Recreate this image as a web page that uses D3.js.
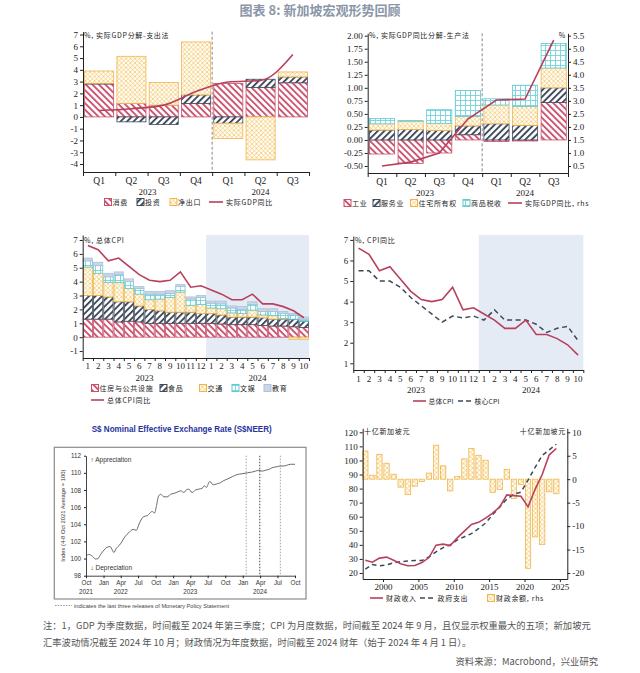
<!DOCTYPE html>
<html><head><meta charset="utf-8">
<script src="https://cdn.jsdelivr.net/npm/d3@7"></script>
<style>
html,body{margin:0;padding:0;background:#fff;}
svg{display:block;}
</style></head><body>
<svg id="c" width="640" height="673"></svg>
<script>
// ---------------- DATA ----------------
const gdpQuarters = ["Q1","Q2","Q3","Q4","Q1","Q2","Q3"];
const gdpYears = ["2023","2024"];
// Panel 1: expenditure approach (ppt)
const expConsumption = [2.8, 1.15, 1.0, 1.15, 2.85, 2.5, 2.9];
const expInvestment  = [0.05, -0.42, -0.65, 0.72, -0.54, 0.7, 0.5];
const expNetExports  = [1.05, 4.0, 1.92, 4.5, -1.3, -3.65, 0.42];
const gdpYoY         = [0.55, 0.7, 1.0, 2.15, 2.97, 3.1, 5.3];
// Panel 2: production approach (ppt), GDP rhs
const prodIndustry  = [-0.27, -0.45, -0.25, 0.10, -0.03, -0.02, 0.72];
const prodServices  = [0.19, 0.20, 0.18, 0.17, 0.31, 0.28, 0.28];
const prodDwellings = [0.12, 0.16, 0.14, 0.18, 0.36, 0.36, 0.38];
const prodTaxes     = [0.10, 0.01, 0.26, 0.50, 0.12, 0.41, 0.47];
const gdpYoYRhs     = [0.5, 0.65, 1.0, 2.3, 3.03, 3.07, 5.33];
// Panel 3 & 4: CPI, monthly 2023-01 .. 2024-10
const cpiMonths = ["1","2","3","4","5","6","7","8","9","10","11","12","1","2","3","4","5","6","7","8","9","10"];
const cpiYears = ["2023","2024"];
const cpiHousing    = [1.3,1.3,1.3,1.1,1.15,1.1,1.0,1.0,1.0,1.0,1.0,1.0, 1.0,0.95,0.9,0.9,0.9,0.85,0.8,0.8,0.75,0.7];
const cpiFood       = [1.7,1.7,1.6,1.45,1.4,1.15,1.0,0.9,0.8,0.8,0.8,0.7, 0.7,0.65,0.55,0.55,0.55,0.55,0.5,0.5,0.55,0.45];
const cpiTransport  = [2.05,1.6,1.05,1.4,0.95,0.85,0.7,0.85,1.05,1.45,0.5,0.65, 0.4,0.45,0.3,0.25,0.5,0.2,0.25,0.05,-0.15,-0.15];
const cpiRecreation = [0.45,0.55,0.4,0.55,0.5,0.4,0.4,0.35,0.3,0.4,0.45,0.5, 0.35,0.35,0.35,0.3,0.4,0.25,0.3,0.35,0.3,0.15];
const cpiEducation  = [0.2,0.25,0.25,0.2,0.2,0.15,0.2,0.2,0.2,0.15,0.15,0.15, 0.15,0.2,0.15,0.2,0.2,0.2,0.2,0.15,0.1,0.15];
const cpiHeadline   = [6.6,6.3,5.5,5.7,5.1,4.5,4.1,4.0,4.1,4.7,3.6,3.7, 3.4,3.1,2.7,2.7,3.1,2.4,2.4,2.2,1.9,1.4];
const cpiCore       = [5.5,5.5,5.0,5.0,4.7,4.2,3.8,3.4,3.0,3.3,3.2,3.3, 3.1,3.6,3.1,3.1,3.1,2.9,2.5,2.7,2.8,2.1];
// Panel 5: S$NEER
const neerDates = ["2021-10-01","2021-10-16","2021-11-03","2021-11-20","2021-12-03","2021-12-17","2022-01-04","2022-01-18","2022-02-04","2022-02-16","2022-02-24","2022-03-09","2022-03-27","2022-04-08","2022-04-25","2022-05-13","2022-06-05","2022-06-22","2022-07-04","2022-07-16","2022-07-31","2022-08-18","2022-09-01","2022-09-13","2022-09-25","2022-10-06","2022-10-15","2022-10-27","2022-11-14","2022-12-01","2022-12-19","2023-01-06","2023-01-23","2023-02-10","2023-02-27","2023-03-06","2023-03-24","2023-04-10","2023-04-28","2023-05-15","2023-06-02","2023-06-14","2023-06-24","2023-07-12","2023-07-30","2023-08-16","2023-09-06","2023-09-24","2023-10-15","2023-11-07","2023-12-03","2023-12-29","2024-01-25","2024-02-20","2024-03-08","2024-03-25","2024-04-12","2024-04-29","2024-05-17","2024-06-03","2024-06-26","2024-07-17","2024-08-04","2024-08-21","2024-09-08","2024-10-01"];
const neerValues = [100.29,100.48,100.29,99.94,100.0,100.5,101.0,101.3,101.4,101.0,100.7,101.2,101.6,102.0,102.6,103.0,103.4,103.3,103.9,104.5,104.9,105.0,105.3,105.5,105.3,106.2,107.2,107.5,107.2,107.2,107.5,107.6,107.76,107.9,107.7,107.9,108.1,107.7,108.0,108.1,108.2,108.5,108.3,109.0,108.6,108.7,108.85,109.1,109.3,109.55,109.8,109.9,110.0,110.1,110.2,110.3,110.2,110.3,110.4,110.6,110.7,110.8,110.8,110.9,111.0,111.0];
const neerMpsDates = ["2024-01-19","2024-03-30","2024-07-16"];
const neerTickYears = [["2021-10-01","2021"],["2022-04-01","2022"],["2023-04-01","2023"],["2024-04-01","2024"]];
// Panel 6: fiscal, FY1997..FY2024
const fiscalYears = d3.range(1997, 2025);
const fiscalRevenue = [29.0,27.7,30.6,31.3,29.0,26.6,25.2,25.3,27.4,31.0,39.8,40.5,39.5,45.0,49.8,54.5,56.0,59.0,62.5,67.0,75.5,75.0,74.5,67.0,79.5,90.0,104.0,108.5];
const fiscalSpending = [22.8,26.0,25.2,25.7,27.3,28.0,28.6,28.8,28.8,31.5,35.0,38.0,40.0,43.5,45.8,48.0,51.5,55.5,61.5,67.0,72.5,76.0,77.5,86.0,95.0,103.5,107.5,111.5];
const fiscalBalance = [6.0,0.85,5.3,3.4,1.05,-1.7,-3.3,-1.5,-0.5,1.3,7.25,2.85,-2.5,0.6,4.35,6.55,5.1,4.05,-2.8,-2.2,2.1,-4.1,-1.1,-19.0,-12.3,-13.9,-2.7,-3.1];

// ---------------- SETUP ----------------
const CJK = "'Noto Sans CJK SC','Noto Sans',sans-serif";
const SERIF = "'Liberation Serif','DejaVu Serif',serif";
const SANS = "'Liberation Sans','DejaVu Sans',Arial,sans-serif";
const INK = "#222";
const RED = "#b8405d";
const DARK = "#3d4858";

const svg = d3.select('#c');
const defs = svg.append('defs');
function hatch(id, color, angle, size, thick){
  const p = defs.append('pattern').attr('id',id).attr('patternUnits','userSpaceOnUse')
    .attr('width',size).attr('height',size).attr('patternTransform',`rotate(${angle})`);
  p.append('rect').attr('width',size).attr('height',size).attr('fill','#fff');
  p.append('rect').attr('width',thick).attr('height',size).attr('fill',color);
}
hatch('pRed','#cc5571',-45,4.6,1.9);
hatch('pDark','#404b5c',45,4.6,1.9);
{
  const p = defs.append('pattern').attr('id','pOrange').attr('patternUnits','userSpaceOnUse').attr('width',4.5).attr('height',4.5);
  p.append('rect').attr('width',4.5).attr('height',4.5).attr('fill','#fffdf5');
  p.append('path').attr('d','M0,0L4.5,4.5M4.5,0L0,4.5').attr('stroke','#f2c164').attr('stroke-width',0.7);
  const q = defs.append('pattern').attr('id','pCyan').attr('patternUnits','userSpaceOnUse').attr('width',5).attr('height',5);
  q.append('rect').attr('width',5).attr('height',5).attr('fill','#fff');
  q.append('path').attr('d','M0,0.5H5M0.5,0V5').attr('stroke','#74d2da').attr('stroke-width',0.9);
}
const STY = {
  red:{fill:'url(#pRed)',stroke:'#c9506b'},
  dark:{fill:'url(#pDark)',stroke:'#404b5c'},
  orange:{fill:'url(#pOrange)',stroke:'#f0b64c'},
  cyan:{fill:'url(#pCyan)',stroke:'#63c9d2'},
  edu:{fill:'#c9d6e8',stroke:'#b0c1da'}
};

function txt(x,y,s,opt={}){
  return svg.append('text').attr('x',x).attr('y',y).attr('text-anchor',opt.anchor||'start')
    .style('font-family',opt.font||CJK).style('font-size',(opt.size||7)+'px')
    .style('letter-spacing',(opt.ls!==undefined?opt.ls:0.7)+'px')
    .style('font-weight',opt.weight||'normal')
    .attr('fill',opt.fill||INK).text(s);
}
function styleAxis(g, font, size){
  g.select('.domain').attr('stroke',INK).attr('stroke-width',1);
  g.selectAll('.tick line').attr('stroke',INK);
  g.selectAll('text').style('font-family',font).style('font-size',size+'px').attr('fill',INK);
}
function legendBox(x,cy,sty){
  svg.append('rect').attr('x',x).attr('y',cy-3.5).attr('width',7).attr('height',7)
    .attr('fill',sty.fill).attr('stroke',sty.stroke).attr('stroke-width',1);
}
function legendLine(x1,x2,cy,color,dash){
  svg.append('line').attr('x1',x1).attr('x2',x2).attr('y1',cy).attr('y2',cy)
    .attr('stroke',color).attr('stroke-width',1.6).attr('stroke-dasharray',dash||null);
}
function drawStack(keys, styles, rows, xBand, y){
  const series = d3.stack().keys(keys).offset(d3.stackOffsetDiverging)(rows);
  series.forEach((s,k)=>{
    svg.append('g').selectAll('rect').data(s.filter(d=>Math.abs(d[1]-d[0])>1e-6)).join('rect')
      .attr('x',d=>xBand(d.data.i)).attr('width',xBand.bandwidth())
      .attr('y',d=>y(Math.max(d[0],d[1]))).attr('height',d=>Math.abs(y(d[0])-y(d[1])))
      .attr('fill',styles[k].fill).attr('stroke',styles[k].stroke).attr('stroke-width',0.8);
  });
}
const fmtPlain = d=>String(d);

// ---------------- TITLE ----------------
txt(320,15,'图表 8: 新加坡宏观形势回顾',{anchor:'middle',size:13,weight:'bold',fill:'#8a96a8',ls:0});

// ---------------- PANEL 1 ----------------
{
  const L=83,R=309,T=31.7,B=172;
  const xb = d3.scaleBand().domain(d3.range(gdpQuarters.length)).range([L,R]).paddingInner(0.1).paddingOuter(0.05);
  const xe = d3.scaleLinear().domain([0,gdpQuarters.length]).range([L,R]);
  const y = d3.scaleLinear().domain([-4.68,7.24]).range([B,T]);
  const rows = gdpQuarters.map((q,i)=>({i,cons:expConsumption[i],inv:expInvestment[i],nx:expNetExports[i]}));
  drawStack(['cons','inv','nx'],[STY.red,STY.dark,STY.orange],rows,xb,y);
  svg.append('line').attr('x1',xe(4)).attr('x2',xe(4)).attr('y1',T).attr('y2',B)
    .attr('stroke','#888').attr('stroke-dasharray','3,2');
  svg.append('path').datum(gdpYoY).attr('fill','none').attr('stroke',RED).attr('stroke-width',1.6)
    .attr('d',d3.line().x((d,i)=>xb(i)+xb.bandwidth()/2).y(d=>y(d)).curve(d3.curveMonotoneX));
  const ga = svg.append('g').attr('transform',`translate(${L},0)`)
    .call(d3.axisLeft(y).tickValues(d3.range(-4,8)).tickSize(3).tickSizeOuter(0).tickPadding(2).tickFormat(fmtPlain));
  styleAxis(ga,SERIF,9);
  const gx = svg.append('g').attr('transform',`translate(0,${B})`)
    .call(d3.axisBottom(xe).tickValues(d3.range(gdpQuarters.length+1)).tickSize(4).tickSizeOuter(0).tickFormat(''));
  styleAxis(gx,SERIF,9);
  gdpQuarters.forEach((q,i)=>txt(xb(i)+xb.bandwidth()/2,184,q,{anchor:'middle',font:SERIF,size:9.5,ls:0}));
  txt((xe(0)+xe(4))/2,194.5,gdpYears[0],{anchor:'middle',font:SERIF,size:9,ls:0});
  txt((xe(4)+xe(7))/2,194.5,gdpYears[1],{anchor:'middle',font:SERIF,size:9,ls:0});
  txt(84,38,'%, 实际GDP分解-支出法');
  legendBox(104.5,202,STY.red); txt(112.5,205,'消费');
  legendBox(137,202,STY.dark); txt(145,205,'投资');
  legendBox(170,202,STY.orange); txt(178,205,'净出口');
  legendLine(209,223,202,RED); txt(226,205,'实际GDP同比');
}

// ---------------- PANEL 2 ----------------
{
  const L=367.7,R=568,T=33.3,B=173;
  const xb = d3.scaleBand().domain(d3.range(gdpQuarters.length)).range([L,R]).paddingInner(0.12).paddingOuter(0.06);
  const xe = d3.scaleLinear().domain([0,gdpQuarters.length]).range([L,R]);
  const y = d3.scaleLinear().domain([-0.634,2.046]).range([B,T]);
  const yr = d3.scaleLinear().domain([0.232,5.592]).range([B,T]);
  const rows = gdpQuarters.map((q,i)=>({i,ind:prodIndustry[i],srv:prodServices[i],dw:prodDwellings[i],tax:prodTaxes[i]}));
  drawStack(['ind','srv','dw','tax'],[STY.red,STY.dark,STY.orange,STY.cyan],rows,xb,y);
  svg.append('line').attr('x1',xe(4)).attr('x2',xe(4)).attr('y1',T).attr('y2',B)
    .attr('stroke','#888').attr('stroke-dasharray','3,2');
  svg.append('path').datum(gdpYoYRhs).attr('fill','none').attr('stroke',RED).attr('stroke-width',1.6)
    .attr('d',d3.line().x((d,i)=>xb(i)+xb.bandwidth()/2).y(d=>yr(d)));
  const ga = svg.append('g').attr('transform',`translate(${L},0)`)
    .call(d3.axisLeft(y).tickValues(d3.range(-2,9).map(v=>v*0.25)).tickSize(3).tickSizeOuter(0).tickPadding(2).tickFormat(d=>d.toFixed(2)));
  styleAxis(ga,SERIF,9);
  const gr = svg.append('g').attr('transform',`translate(${R},0)`)
    .call(d3.axisRight(yr).tickValues(d3.range(1,12).map(v=>v*0.5)).tickSize(3).tickSizeOuter(0).tickPadding(2).tickFormat(d=>d.toFixed(1)));
  styleAxis(gr,SERIF,9);
  const gx = svg.append('g').attr('transform',`translate(0,${B})`)
    .call(d3.axisBottom(xe).tickValues(d3.range(gdpQuarters.length+1)).tickSize(4).tickSizeOuter(0).tickFormat(''));
  styleAxis(gx,SERIF,9);
  gdpQuarters.forEach((q,i)=>txt(xb(i)+xb.bandwidth()/2,185,q,{anchor:'middle',font:SERIF,size:9.5,ls:0}));
  txt((xe(0)+xe(4))/2,196,gdpYears[0],{anchor:'middle',font:SERIF,size:9,ls:0});
  txt((xe(4)+xe(7))/2,196,gdpYears[1],{anchor:'middle',font:SERIF,size:9,ls:0});
  txt(369,38,'%, 实际GDP同比分解-生产法');
  txt(566,38,'%',{anchor:'end'});
  legendBox(344,203,STY.red); txt(352,206,'工业');
  legendBox(373,203,STY.dark); txt(381,206,'服务业');
  legendBox(410.5,203,STY.orange); txt(418.5,206,'住宅所有权');
  legendBox(463,203,STY.cyan); txt(471,206,'商品税收');
  legendLine(508,522,203,RED); txt(525,206,'实际GDP同比, rhs');
}

// ---------------- PANEL 3 ----------------
{
  const L=82.7,R=309,T=235,B=358;
  const n = cpiMonths.length;
  const xb = d3.scaleBand().domain(d3.range(n)).range([L,R]).paddingInner(0.1).paddingOuter(0.05);
  const xe = d3.scaleLinear().domain([0,n]).range([L,R]);
  const y = d3.scaleLinear().domain([-1.5,7.36]).range([B,T]);
  svg.append('rect').attr('x',xe(12)).attr('y',T).attr('width',R-xe(12)).attr('height',B-T).attr('fill','#e4ebf5');
  const rows = cpiMonths.map((m,i)=>({i,h:cpiHousing[i],f:cpiFood[i],t:cpiTransport[i],r:cpiRecreation[i],e:cpiEducation[i]}));
  drawStack(['h','f','t','r','e'],[STY.red,STY.dark,STY.orange,STY.cyan,STY.edu],rows,xb,y);
  svg.append('path').datum(cpiHeadline).attr('fill','none').attr('stroke',RED).attr('stroke-width',1.6)
    .attr('d',d3.line().x((d,i)=>xb(i)+xb.bandwidth()/2).y(d=>y(d)));
  const ga = svg.append('g').attr('transform',`translate(${L},0)`)
    .call(d3.axisLeft(y).tickValues(d3.range(-1,8)).tickSize(3).tickSizeOuter(0).tickPadding(2).tickFormat(fmtPlain));
  styleAxis(ga,SERIF,9);
  const gx = svg.append('g').attr('transform',`translate(0,${B})`)
    .call(d3.axisBottom(xe).tickValues(d3.range(n+1)).tickSize(3).tickSizeOuter(0).tickFormat(''));
  styleAxis(gx,SERIF,9);
  cpiMonths.forEach((m,i)=>txt(xb(i)+xb.bandwidth()/2,368.5,m,{anchor:'middle',font:SERIF,size:9,ls:0}));
  txt((xe(0)+xe(12))/2,381,cpiYears[0],{anchor:'middle',font:SERIF,size:9,ls:0});
  txt((xe(12)+xe(22))/2,381,cpiYears[1],{anchor:'middle',font:SERIF,size:9,ls:0});
  txt(84,243,'%, 总体CPI');
  legendBox(91.5,388,STY.red); txt(99.5,391,'住房与公共设施');
  legendBox(160,388,STY.dark); txt(168,391,'食品');
  legendBox(199.5,388,STY.orange); txt(207.5,391,'交通');
  legendBox(232,388,STY.cyan); txt(240,391,'文娱');
  legendBox(264,388,STY.edu); txt(272,391,'教育');
  legendLine(91,104,400,RED); txt(107,403,'总体CPI同比');
}

// ---------------- PANEL 4 ----------------
{
  const L=353.3,R=583.3,T=235,B=370;
  const n = cpiMonths.length;
  const xe = d3.scaleLinear().domain([0,n]).range([L,R]);
  const y = d3.scaleLinear().domain([0.674,7.19]).range([B,236]);
  svg.append('rect').attr('x',xe(12)).attr('y',T).attr('width',R-xe(12)).attr('height',B-T).attr('fill','#e4ebf5');
  svg.append('path').datum(cpiCore).attr('fill','none').attr('stroke',DARK).attr('stroke-width',1.5).attr('stroke-dasharray','5,3.5')
    .attr('d',d3.line().x((d,i)=>xe(i+0.5)).y(d=>y(d)));
  svg.append('path').datum(cpiHeadline).attr('fill','none').attr('stroke',RED).attr('stroke-width',1.6)
    .attr('d',d3.line().x((d,i)=>xe(i+0.5)).y(d=>y(d)));
  const ga = svg.append('g').attr('transform',`translate(${L},0)`)
    .call(d3.axisLeft(y).tickValues(d3.range(1,8)).tickSize(3).tickSizeOuter(0).tickPadding(2).tickFormat(fmtPlain));
  styleAxis(ga,SERIF,9);
  const gx = svg.append('g').attr('transform',`translate(0,${B})`)
    .call(d3.axisBottom(xe).tickValues(d3.range(n+1)).tickSize(3).tickSizeOuter(0).tickFormat(''));
  styleAxis(gx,SERIF,9);
  cpiMonths.forEach((m,i)=>txt(xe(i+0.5),381.5,m,{anchor:'middle',font:SERIF,size:9,ls:0}));
  txt((xe(0)+xe(12))/2,392.5,cpiYears[0],{anchor:'middle',font:SERIF,size:9,ls:0});
  txt((xe(12)+xe(22))/2,392.5,cpiYears[1],{anchor:'middle',font:SERIF,size:9,ls:0});
  txt(355,243,'%, CPI同比');
  legendLine(413,426,401,RED); txt(428.5,404,'总体CPI',{size:6.8,ls:0.2});
  legendLine(458,472,401,DARK,'5,3'); txt(474.5,404,'核心CPI',{size:6.8,ls:0.2});
}

// ---------------- PANEL 5 (S$NEER) ----------------
{
  const L=86,R=295,T=455.7,B=575.7;
  const parse = d3.utcParse('%Y-%m-%d');
  const x = d3.scaleUtc().domain([parse('2021-10-01'),parse('2024-10-01')]).range([L,R]);
  const y = d3.scaleLinear().domain([98,112]).range([B,T]);
  txt(181.7,432,'S$ Nominal Effective Exchange Rate (S$NEER)',{anchor:'middle',font:SANS,size:8.5,weight:'bold',fill:'#27349c',ls:0})
    .attr('textLength',180).attr('lengthAdjust','spacingAndGlyphs');
  svg.append('rect').attr('x',54.3).attr('y',447.3).attr('width',251.7).attr('height',151.7)
    .attr('fill','none').attr('stroke','#8a8a8a').attr('stroke-width',1.2);
  neerMpsDates.forEach((d,i)=>svg.append('line').attr('x1',x(parse(d))).attr('x2',x(parse(d)))
    .attr('y1',T).attr('y2',B).attr('stroke','#666').attr('stroke-width',i===1?1.2:0.6).attr('stroke-dasharray','1.5,1.5'));
  const pts = neerDates.map((d,i)=>[parse(d),neerValues[i]]);
  svg.append('path').datum(pts).attr('fill','none').attr('stroke','#5a5a5a').attr('stroke-width',0.9)
    .attr('d',d3.line().x(d=>x(d[0])).y(d=>y(d[1])).curve(d3.curveMonotoneX));
  const ga = svg.append('g').attr('transform',`translate(${L},0)`)
    .call(d3.axisLeft(y).tickValues(d3.range(98,113,2)).tickSize(2).tickSizeOuter(0).tickPadding(3).tickFormat(fmtPlain));
  styleAxis(ga,SANS,6.3);
  ga.select('.domain').attr('stroke','#444'); ga.selectAll('text').attr('fill','#333');
  const gx = svg.append('g').attr('transform',`translate(0,${B})`)
    .call(d3.axisBottom(x).ticks(d3.utcMonth.every(3)).tickSize(2.5).tickSizeOuter(0).tickPadding(2).tickFormat(d3.utcFormat('%b')));
  styleAxis(gx,SANS,6.3);
  gx.select('.domain').attr('stroke','#444'); gx.selectAll('text').attr('fill','#333');
  neerTickYears.forEach(([d,s])=>txt(x(parse(d)),594,s,{anchor:'middle',font:SANS,size:6.3,fill:'#333',ls:0}));
  svg.append('text').attr('transform','translate(65,515.7) rotate(-90)').attr('text-anchor','middle')
    .style('font-family',SANS).style('font-size','5.8px').attr('fill','#333')
    .text('Index (4-8 Oct 2021 Average = 100)');
  txt(90.5,461.5,'↑ Appreciation',{font:SANS,size:6.5,fill:'#333',ls:0});
  txt(90.5,570,'↓ Depreciation',{font:SANS,size:6.5,fill:'#333',ls:0});
  svg.append('line').attr('x1',55).attr('x2',72).attr('y1',605.5).attr('y2',605.5)
    .attr('stroke','#555').attr('stroke-width',0.6).attr('stroke-dasharray','1.5,1.2');
  txt(74,607.5,'indicates the last three releases of Monetary Policy Statement',{font:SANS,size:5.5,fill:'#444',ls:0})
    .attr('textLength',155).attr('lengthAdjust','spacingAndGlyphs');
}

// ---------------- PANEL 6 (fiscal) ----------------
{
  const L=362.7,R=567.3,T=428.3,B=579;
  const x = d3.scaleLinear().domain([1997.13,2026.05]).range([L,R]);
  const y = d3.scaleLinear().domain([15.74,122.84]).range([B,T]);
  const yr = d3.scaleLinear().domain([-21.28,10.85]).range([B,T]);
  const bw = 5.3;
  svg.append('g').selectAll('rect').data(fiscalBalance).join('rect')
    .attr('x',(d,i)=>x(fiscalYears[i]+0.5)-bw/2).attr('width',bw)
    .attr('y',d=>yr(Math.max(0,d))).attr('height',d=>Math.abs(yr(d)-yr(0)))
    .attr('fill',STY.orange.fill).attr('stroke',STY.orange.stroke).attr('stroke-width',0.8);
  svg.append('path').datum(fiscalSpending).attr('fill','none').attr('stroke',DARK).attr('stroke-width',1.5).attr('stroke-dasharray','4.5,3.5')
    .attr('d',d3.line().x((d,i)=>x(fiscalYears[i]+0.5)).y(d=>y(d)));
  svg.append('path').datum(fiscalRevenue).attr('fill','none').attr('stroke',RED).attr('stroke-width',1.6)
    .attr('d',d3.line().x((d,i)=>x(fiscalYears[i]+0.5)).y(d=>y(d)));
  const ga = svg.append('g').attr('transform',`translate(${L},0)`)
    .call(d3.axisLeft(y).tickValues(d3.range(20,121,10)).tickSize(3).tickSizeOuter(0).tickPadding(2).tickFormat(fmtPlain));
  styleAxis(ga,SERIF,9);
  const gr = svg.append('g').attr('transform',`translate(${R},0)`)
    .call(d3.axisRight(yr).tickValues(d3.range(-20,11,5)).tickSize(3).tickSizeOuter(0).tickPadding(2).tickFormat(fmtPlain));
  styleAxis(gr,SERIF,9);
  const gx = svg.append('g').attr('transform',`translate(0,${B})`)
    .call(d3.axisBottom(x).tickValues(d3.range(2000,2026,5)).tickSize(3).tickSizeOuter(0).tickPadding(2).tickFormat(fmtPlain));
  styleAxis(gx,SERIF,9);
  txt(364,434,'十亿新加坡元');
  txt(566,434,'十亿新加坡元',{anchor:'end'});
  legendLine(370,383,598,RED); txt(386,601,'财政收入');
  legendLine(420,435,598,DARK,'5,3'); txt(437.5,601,'政府支出');
  legendBox(487.5,598,STY.orange); txt(496,601,'财政余额, rhs');
}

// ---------------- FOOTER ----------------
txt(43,629,'注：1，GDP 为季度数据，时间截至 2024 年第三季度；CPI 为月度数据，时间截至 2024 年 9 月，且仅显示权重最大的五项；新加坡元',{size:9.3,fill:'#555',ls:0});
txt(43,646,'汇率波动情况截至 2024 年 10 月；财政情况为年度数据，时间截至 2024 财年（始于 2024 年 4 月 1 日）。',{size:9.3,fill:'#555',ls:0});
txt(598,665,'资料来源：Macrobond，兴业研究',{anchor:'end',size:9.3,fill:'#555',ls:0});
</script></body></html>
